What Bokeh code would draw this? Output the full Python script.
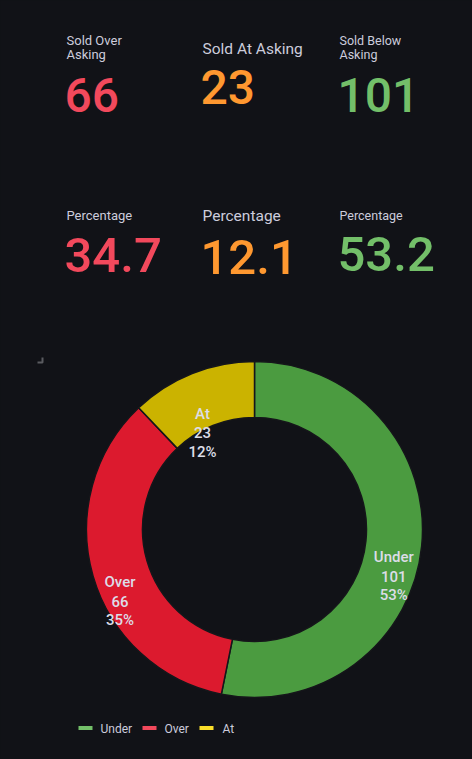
import math
from bokeh.plotting import figure
from bokeh.models import Range1d
from bokeh.core.properties import value
from bokeh.embed import file_html
from bokeh.resources import INLINE

# ---- data ----
categories = ["Under", "Over", "At"]
counts = [101, 66, 23]
percent_labels = ["53%", "35%", "12%"]
slice_colors = ["#4b9b40", "#dc1a2e", "#cbb300"]
legend_colors = ["#73BF69", "#F2495C", "#FADE2A"]

stat_titles = [["Sold Over", "Asking"], ["Sold At Asking"], ["Sold Below", "Asking"]]
stat_values = [66, 23, 101]
pct_titles = ["Percentage", "Percentage", "Percentage"]
pct_values = [34.7, 12.1, 53.2]
stat_colors = ["#F2495C", "#FF9830", "#73BF69"]

# ---- layout helpers (page pixel -> data) ----
W, H = 472, 759
BG = "#111217"
TXT = "#ccccdc"
FONT = value("Roboto")
FONT_MED = value("'Roboto Medium', Roboto")


def X(px):
    return px


def Y(py):
    return H - py


def B(py, size):
    # baseline correction for alphabetic text
    return Y(py - 0.32 * size)


p = figure(width=W, height=H, output_backend="svg", toolbar_location=None,
           x_range=Range1d(0, W), y_range=Range1d(0, H),
           x_axis_location=None, y_axis_location=None,
           background_fill_color=BG, border_fill_color=BG, min_border=0)
p.outline_line_color = None
p.grid.visible = False

# ---- stat panels ----
col_x = [66, 202, 339]
title_sizes = [13, 15.5, 12.5]
title_base = [[44, 58], [53], [44, 58]]
value_base = [110, 102, 110]
for i in range(3):
    for j, line in enumerate(stat_titles[i]):
        p.text(x=[X(col_x[i])], y=[B(title_base[i][j], title_sizes[i])], text=[line],
               text_font=FONT, text_font_size=f"{title_sizes[i]}px", text_color=TXT,
               text_baseline="alphabetic", text_align="left")
    p.text(x=[X(col_x[i] - 2)], y=[B(value_base[i], 48)], text=[str(stat_values[i])],
           text_font=FONT_MED, text_font_size="48px", text_color=stat_colors[i],
           text_baseline="alphabetic", text_align="left")

pct_title_base = [219, 220, 219]
pct_value_base = [270, 272, 269]
for i in range(3):
    p.text(x=[X(col_x[i])], y=[B(pct_title_base[i], title_sizes[i])], text=[pct_titles[i]],
           text_font=FONT, text_font_size=f"{title_sizes[i]}px", text_color=TXT,
           text_baseline="alphabetic", text_align="left")
    p.text(x=[X(col_x[i] - 2)], y=[B(pct_value_base[i], 49)], text=[f"{pct_values[i]:.1f}"],
           text_font=FONT_MED, text_font_size="49px", text_color=stat_colors[i],
           text_baseline="alphabetic", text_align="left")

# small resize handle mark
p.multi_line(xs=[[X(37), X(42), X(42)]], ys=[[Y(362), Y(362), Y(357)]],
             line_color="#5a5b60", line_width=2)

# ---- donut ----
cx, cy = X(254), Y(529)
r_in, r_out = 112, 168
total = sum(counts)
cum = [0.0]
for c in counts:
    cum.append(cum[-1] + c / total)

starts, ends = [], []
for i in range(len(counts)):
    a0 = cum[i] * 2 * math.pi   # clockwise from top
    a1 = cum[i + 1] * 2 * math.pi
    starts.append(math.pi / 2 - a1)
    ends.append(math.pi / 2 - a0)

p.annular_wedge(x=[cx] * 3, y=[cy] * 3, inner_radius=r_in, outer_radius=r_out,
                start_angle=starts, end_angle=ends, fill_color=slice_colors,
                line_color="#15161a", line_width=1.5)

r_mid = (r_in + r_out) / 2
for i in range(3):
    am = (cum[i] + cum[i + 1]) / 2 * 2 * math.pi
    lx = 254 + r_mid * math.sin(am)
    ly = 529 - r_mid * math.cos(am)
    lines = [categories[i], str(counts[i]), percent_labels[i]]
    for k, t in enumerate(lines):
        p.text(x=[X(lx)], y=[Y(ly + 14 + 19 * k)], text=[t], text_font=FONT_MED,
               text_font_size="15px", text_color="#dcdde8",
               text_align="center", text_baseline="middle")

# ---- legend ----
leg_line_x = [78, 142, 199]
leg_text_x = [100, 164, 222]
for i in range(3):
    p.line(x=[X(leg_line_x[i]), X(leg_line_x[i] + 14)], y=[Y(727.5), Y(727.5)],
           line_color=legend_colors[i], line_width=4)
    p.text(x=[X(leg_text_x[i])], y=[Y(728)], text=[categories[i]], text_font=FONT,
           text_font_size="12px", text_color=TXT, text_align="left",
           text_baseline="middle")

html = file_html(p, INLINE)
html = html.replace("</head>", "<style>html,body{background:#111217;}</style></head>", 1)
open("out.html", "w").write(html)
